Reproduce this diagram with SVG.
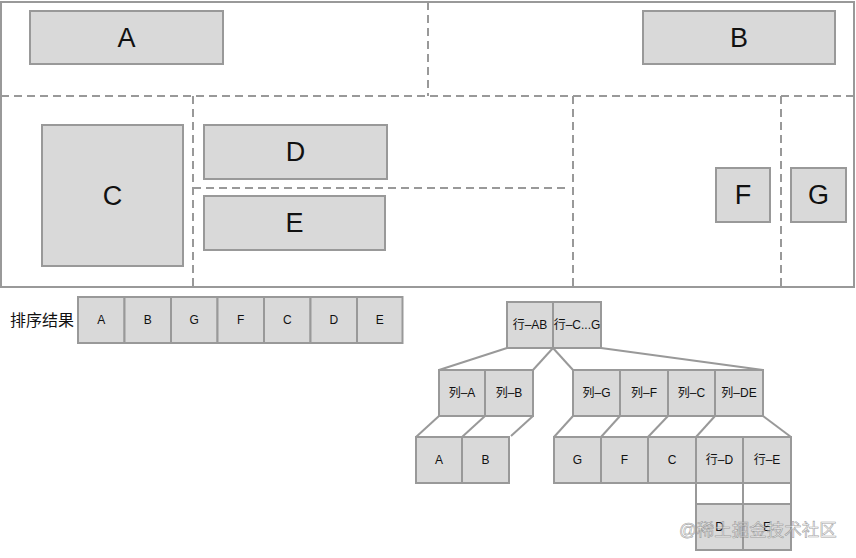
<svg xmlns="http://www.w3.org/2000/svg" width="856" height="558" viewBox="0 0 856 558">
<style>
.bx{fill:#d9d9d9;stroke:#999;stroke-width:2}
.wb{fill:#fff;stroke:#999;stroke-width:2}
.dash{stroke:#999;stroke-width:2;stroke-dasharray:8 5;fill:none}
.con{stroke:#999;stroke-width:2;fill:none}
text{font-family:"Liberation Sans","Noto Sans CJK SC",sans-serif;fill:#111;text-anchor:middle;dominant-baseline:central}
.big{font-size:27px}
.sm{font-size:12px}
.tr{font-size:12px}
</style>
<rect width="856" height="558" fill="#fff"/>
<g id="frame">
<rect x="1" y="2" width="853" height="285" fill="none" stroke="#999" stroke-width="2"/>
<line class="dash" x1="1" y1="96" x2="854" y2="96"/>
<line class="dash" x1="428" y1="2" x2="428" y2="96"/>
<line class="dash" x1="193" y1="96" x2="193" y2="287"/>
<line class="dash" x1="573" y1="96" x2="573" y2="287"/>
<line class="dash" x1="781" y1="96" x2="781" y2="287"/>
<line class="dash" x1="193" y1="188" x2="567" y2="188"/>
</g>
<g id="nA"><rect class="bx" x="30" y="11" width="193" height="53"/><text class="big" x="126.5" y="38">A</text></g>
<g id="nB"><rect class="bx" x="643" y="11" width="192" height="53"/><text class="big" x="739" y="38">B</text></g>
<g id="nC"><rect class="bx" x="42" y="125" width="141" height="141"/><text class="big" x="112.5" y="196">C</text></g>
<g id="nD"><rect class="bx" x="204" y="125" width="183" height="54"/><text class="big" x="295.5" y="152">D</text></g>
<g id="nE"><rect class="bx" x="204" y="196" width="181" height="54"/><text class="big" x="294.5" y="223">E</text></g>
<g id="nF"><rect class="bx" x="716" y="168" width="54" height="54"/><text class="big" x="743" y="195">F</text></g>
<g id="nG"><rect class="bx" x="791" y="168" width="55" height="54"/><text class="big" x="818.5" y="195">G</text></g>

<g id="sort">
<text x="42" y="320" style="font-size:16px">排序结果</text>
<g id="s1"><rect class="bx" x="78" y="297" width="46.5" height="46"/><text class="sm" x="101.25" y="320">A</text></g>
<g id="s2"><rect class="bx" x="124.5" y="297" width="46.5" height="46"/><text class="sm" x="147.75" y="320">B</text></g>
<g id="s3"><rect class="bx" x="171" y="297" width="46.5" height="46"/><text class="sm" x="194.25" y="320">G</text></g>
<g id="s4"><rect class="bx" x="217.5" y="297" width="46.5" height="46"/><text class="sm" x="240.75" y="320">F</text></g>
<g id="s5"><rect class="bx" x="264" y="297" width="46.5" height="46"/><text class="sm" x="287.25" y="320">C</text></g>
<g id="s6"><rect class="bx" x="310.5" y="297" width="46.5" height="46"/><text class="sm" x="333.75" y="320">D</text></g>
<g id="s7"><rect class="bx" x="357" y="297" width="45.5" height="46"/><text class="sm" x="379.75" y="320">E</text></g>
</g>

<g id="connectors">
<line class="con" x1="507" y1="348" x2="439" y2="370"/>
<line class="con" x1="553" y1="348" x2="533" y2="370"/>
<line class="con" x1="553" y1="348" x2="573" y2="370"/>
<line class="con" x1="601" y1="348" x2="763" y2="370"/>
<line class="con" x1="439" y1="416" x2="416" y2="437"/>
<line class="con" x1="485" y1="416" x2="462" y2="437"/>
<line class="con" x1="533" y1="416" x2="511" y2="436"/>
<line class="con" x1="573" y1="416" x2="554" y2="437"/>
<line class="con" x1="620" y1="416" x2="601" y2="437"/>
<line class="con" x1="668" y1="416" x2="648" y2="437"/>
<line class="con" x1="715" y1="416" x2="696" y2="437"/>
<line class="con" x1="763" y1="416" x2="791" y2="437"/>
</g>

<g id="tRoot1"><rect class="bx" x="507" y="302" width="46" height="46"/><text class="tr" x="530" y="325">行–AB</text></g>
<g id="tRoot2"><rect class="bx" x="553" y="302" width="48" height="46"/><text class="tr" x="577" y="325">行–C...G</text></g>

<g id="tColA"><rect class="bx" x="439" y="370" width="46" height="46"/><text class="tr" x="462" y="393">列–A</text></g>
<g id="tColB"><rect class="bx" x="485" y="370" width="48" height="46"/><text class="tr" x="509" y="393">列–B</text></g>
<g id="tColG"><rect class="bx" x="573" y="370" width="47" height="46"/><text class="tr" x="596.5" y="393">列–G</text></g>
<g id="tColF"><rect class="bx" x="620" y="370" width="48" height="46"/><text class="tr" x="644" y="393">列–F</text></g>
<g id="tColC"><rect class="bx" x="668" y="370" width="47" height="46"/><text class="tr" x="691.5" y="393">列–C</text></g>
<g id="tColDE"><rect class="bx" x="715" y="370" width="48" height="46"/><text class="tr" x="739" y="393">列–DE</text></g>

<g id="tA"><rect class="bx" x="416" y="437" width="46" height="46"/><text class="tr" x="439" y="460">A</text></g>
<g id="tB"><rect class="bx" x="462" y="437" width="47" height="46"/><text class="tr" x="485.5" y="460">B</text></g>
<g id="tG"><rect class="bx" x="554" y="437" width="47" height="46"/><text class="tr" x="577.5" y="460">G</text></g>
<g id="tF"><rect class="bx" x="601" y="437" width="47" height="46"/><text class="tr" x="624.5" y="460">F</text></g>
<g id="tC"><rect class="bx" x="648" y="437" width="48" height="46"/><text class="tr" x="672" y="460">C</text></g>
<g id="tRowD"><rect class="bx" x="696" y="437" width="47" height="46"/><text class="tr" x="719.5" y="460">行–D</text></g>
<g id="tRowE"><rect class="bx" x="743" y="437" width="48" height="46"/><text class="tr" x="767" y="460">行–E</text></g>
<g id="tGapD"><rect class="wb" x="696" y="483" width="47" height="21"/></g>
<g id="tGapE"><rect class="wb" x="743" y="483" width="48" height="21"/></g>
<g id="tD"><rect class="bx" x="696" y="504" width="47" height="46"/><text class="tr" x="719.5" y="527">D</text></g>
<g id="tE"><rect class="bx" x="743" y="504" width="48" height="46"/><text class="tr" x="767" y="527">E</text></g>

<text x="758" y="530" style="font-size:17.5px;fill:#fff;fill-opacity:0.55;stroke:#888;stroke-width:0.6;stroke-opacity:0.8">@稀土掘金技术社区</text>
</svg>
